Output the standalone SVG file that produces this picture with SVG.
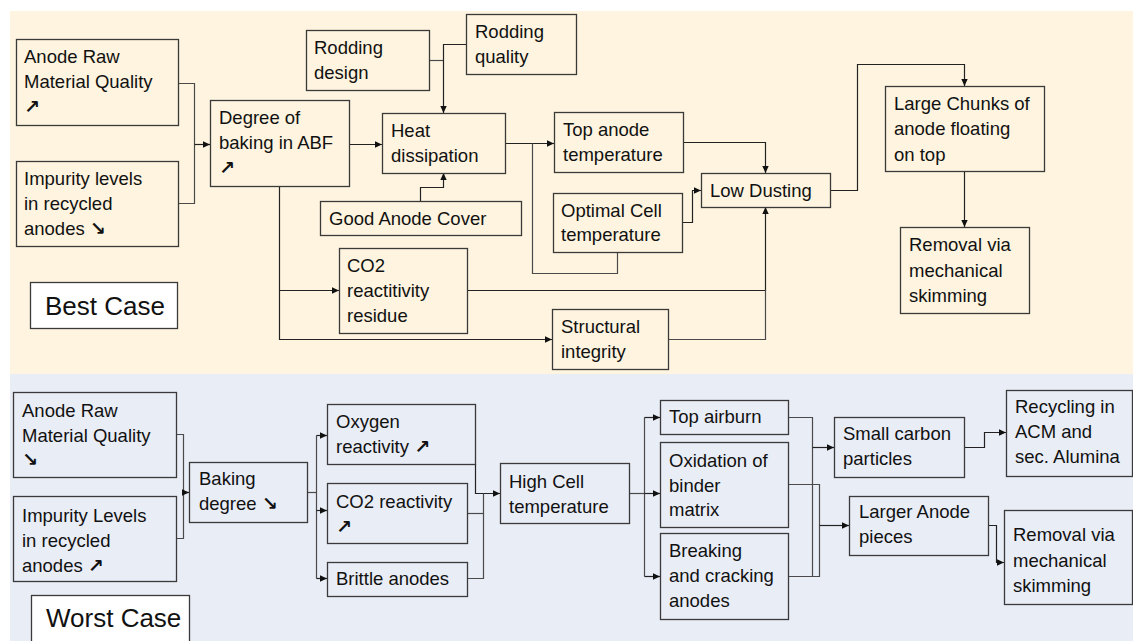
<svg xmlns="http://www.w3.org/2000/svg" width="1133" height="641" viewBox="0 0 1133 641">
<style>
  .box { fill: none; stroke: #3a3a3a; stroke-width: 1.3; }
  .wbox { fill: #ffffff; stroke: #3a3a3a; stroke-width: 1.3; }
  text { font-family: "Liberation Sans", "DejaVu Sans", Arial, sans-serif; font-size: 18.5px; fill: #111111; }
  .big { font-size: 26px; }
  .ar { font-family: "DejaVu Sans", sans-serif; font-weight: bold; font-size: 19px; }
  .c { fill: none; stroke: #4a4a4a; stroke-width: 1.2; }
  .a { fill: none; stroke: #222222; stroke-width: 1.2; marker-end: url(#arr); }
</style>
<defs>
  <marker id="arr" markerUnits="userSpaceOnUse" markerWidth="8" markerHeight="8" refX="7" refY="4" orient="auto">
    <path d="M0,0.8 L7,4 L0,7.2 z" fill="#111111"/>
  </marker>
</defs>

<rect x="10" y="11" width="1123" height="363" fill="#fef4df"/>
<rect x="10" y="374" width="1123" height="267" fill="#e9edf6"/>

<g id="connectors">
  <!-- top -->
  <path class="c" d="M178,83.5 H194.5 V203.5 H178"/>
  <path class="a" d="M194.5,144.5 H210"/>
  <path class="a" d="M349,144.5 H382"/>
  <path class="c" d="M429,60.5 H443.5"/>
  <path class="a" d="M466,44.5 H443.5 V113"/>
  <path class="a" d="M420.5,201 V187.5 H443.5 V173"/>
  <path class="a" d="M505,143.5 H554"/>
  <path class="c" d="M532.5,143.5 V273.5 H617.5 V252"/>
  <path class="a" d="M683,142.5 H765.5 V173"/>
  <path class="a" d="M682,222.5 H692.5 V190.5 H701"/>
  <path class="a" d="M279.5,186 V339.5 H552"/>
  <path class="a" d="M279.5,290.5 H339"/>
  <path class="a" d="M467,290.5 H765.5 V207"/>
  <path class="c" d="M668,339.5 H765.5 V290"/>
  <path class="a" d="M830,190.5 H857.5 V64.5 H964.5 V86"/>
  <path class="a" d="M964.5,171 V227"/>
  <!-- bottom -->
  <path class="c" d="M176,434.5 H183.5 V538.5 H176"/>
  <path class="a" d="M183.5,492.5 H189"/>
  <path class="c" d="M307,492.5 H316.5"/>
  <path class="c" d="M316.5,435.5 V578.5"/>
  <path class="a" d="M316.5,435.5 H327"/>
  <path class="a" d="M316.5,510.5 H327"/>
  <path class="a" d="M316.5,578.5 H327"/>
  <path class="a" d="M475.5,464 V493.5 H500"/>
  <path class="c" d="M467,513.5 H483.5"/>
  <path class="c" d="M467,578.5 H483.5 V493.5"/>
  <path class="c" d="M629,493.5 H644.5"/>
  <path class="c" d="M644.5,417.5 V576.5"/>
  <path class="a" d="M644.5,417.5 H660"/>
  <path class="a" d="M644.5,493.5 H660"/>
  <path class="a" d="M644.5,576.5 H660"/>
  <path class="c" d="M788,417.5 H812.5 V576.5"/>
  <path class="c" d="M788,484.5 H819.5 V576.5 H788"/>
  <path class="a" d="M812.5,447.5 H834"/>
  <path class="a" d="M819.5,525.5 H849"/>
  <path class="a" d="M964,447.5 H984.5 V432.5 H1006"/>
  <path class="a" d="M988,525.5 H996.5 V562.5 H1004"/>
</g>

<!-- top nodes -->
<g id="t-raw">
  <rect class="box" x="16.5" y="39.5" width="162" height="86"/>
  <text><tspan x="24" y="63">Anode Raw</tspan><tspan x="24" y="88">Material Quality</tspan><tspan class="ar" x="24" y="113">↗</tspan></text>
</g>
<g id="t-impurity">
  <rect class="box" x="16.5" y="161.5" width="162" height="85"/>
  <text><tspan x="24" y="185">Impurity levels</tspan><tspan x="24" y="210">in recycled</tspan><tspan x="24" y="235">anodes </tspan><tspan class="ar">↘</tspan></text>
</g>
<g id="t-degree">
  <rect class="box" x="210.5" y="100.5" width="139" height="86"/>
  <text><tspan x="219" y="124">Degree of</tspan><tspan x="219" y="149">baking in ABF</tspan><tspan class="ar" x="219" y="174">↗</tspan></text>
</g>
<g id="t-bestcase">
  <rect class="wbox" x="30.5" y="282.5" width="147" height="46"/>
  <text class="big" x="45" y="315">Best Case</text>
</g>
<g id="t-rodding-design">
  <rect class="box" x="306.5" y="30.5" width="123" height="60"/>
  <text><tspan x="314" y="54">Rodding</tspan><tspan x="314" y="79">design</tspan></text>
</g>
<g id="t-rodding-quality">
  <rect class="box" x="466.5" y="14.5" width="110" height="60"/>
  <text><tspan x="475" y="38">Rodding</tspan><tspan x="475" y="63">quality</tspan></text>
</g>
<g id="t-heat">
  <rect class="box" x="382.5" y="113.5" width="123" height="60"/>
  <text><tspan x="391" y="137">Heat</tspan><tspan x="391" y="162">dissipation</tspan></text>
</g>
<g id="t-cover">
  <rect class="box" x="320.5" y="201.5" width="201" height="34"/>
  <text x="329" y="225">Good Anode Cover</text>
</g>
<g id="t-topanode">
  <rect class="box" x="554.5" y="112.5" width="129" height="60"/>
  <text><tspan x="563" y="136">Top anode</tspan><tspan x="563" y="161">temperature</tspan></text>
</g>
<g id="t-optimal">
  <rect class="box" x="553.5" y="193.5" width="129" height="59"/>
  <text><tspan x="561" y="217">Optimal Cell</tspan><tspan x="561" y="241">temperature</tspan></text>
</g>
<g id="t-lowdusting">
  <rect class="box" x="701.5" y="173.5" width="129" height="34"/>
  <text x="710" y="197">Low Dusting</text>
</g>
<g id="t-co2residue">
  <rect class="box" x="339.5" y="248.5" width="128" height="85"/>
  <text><tspan x="347" y="272">CO2</tspan><tspan x="347" y="297">reactitivity</tspan><tspan x="347" y="322">residue</tspan></text>
</g>
<g id="t-structural">
  <rect class="box" x="552.5" y="309.5" width="116" height="60"/>
  <text><tspan x="561" y="333">Structural</tspan><tspan x="561" y="358">integrity</tspan></text>
</g>
<g id="t-chunks">
  <rect class="box" x="885.5" y="86.5" width="159" height="85"/>
  <text><tspan x="894" y="110">Large Chunks of</tspan><tspan x="894" y="135">anode floating</tspan><tspan x="894" y="161">on top</tspan></text>
</g>
<g id="t-removal">
  <rect class="box" x="900.5" y="227.5" width="129" height="86"/>
  <text><tspan x="909" y="251">Removal via</tspan><tspan x="909" y="277">mechanical</tspan><tspan x="909" y="302">skimming</tspan></text>
</g>

<!-- bottom nodes -->
<g id="b-raw">
  <rect class="box" x="13.5" y="392.5" width="163" height="85"/>
  <text><tspan x="22" y="417">Anode Raw</tspan><tspan x="22" y="442">Material Quality</tspan><tspan class="ar" x="22" y="466">↘</tspan></text>
</g>
<g id="b-impurity">
  <rect class="box" x="13.5" y="496.5" width="163" height="85"/>
  <text><tspan x="22" y="522">Impurity Levels</tspan><tspan x="22" y="547">in recycled</tspan><tspan x="22" y="572">anodes </tspan><tspan class="ar">↗</tspan></text>
</g>
<g id="b-baking">
  <rect class="box" x="189.5" y="462.5" width="118" height="60"/>
  <text><tspan x="199" y="485">Baking</tspan><tspan x="199" y="510">degree </tspan><tspan class="ar">↘</tspan></text>
</g>
<g id="b-worstcase">
  <rect class="wbox" x="31.5" y="595.5" width="158" height="52"/>
  <text class="big" x="46" y="627">Worst Case</text>
</g>
<g id="b-oxygen">
  <rect class="box" x="327.5" y="404.5" width="148" height="60"/>
  <text><tspan x="336" y="428">Oxygen</tspan><tspan x="336" y="453">reactivity </tspan><tspan class="ar">↗</tspan></text>
</g>
<g id="b-co2">
  <rect class="box" x="327.5" y="483.5" width="140" height="60"/>
  <text><tspan x="336" y="508">CO2 reactivity</tspan><tspan class="ar" x="336" y="533">↗</tspan></text>
</g>
<g id="b-brittle">
  <rect class="box" x="327.5" y="562.5" width="140" height="34"/>
  <text x="336" y="585">Brittle anodes</text>
</g>
<g id="b-highcell">
  <rect class="box" x="500.5" y="463.5" width="129" height="60"/>
  <text><tspan x="509" y="488">High Cell</tspan><tspan x="509" y="513">temperature</tspan></text>
</g>
<g id="b-airburn">
  <rect class="box" x="660.5" y="400.5" width="128" height="34"/>
  <text x="669" y="423">Top airburn</text>
</g>
<g id="b-oxidation">
  <rect class="box" x="660.5" y="442.5" width="128" height="85"/>
  <text><tspan x="669" y="467">Oxidation of</tspan><tspan x="669" y="492">binder</tspan><tspan x="669" y="516">matrix</tspan></text>
</g>
<g id="b-breaking">
  <rect class="box" x="660.5" y="533.5" width="128" height="86"/>
  <text><tspan x="669" y="557">Breaking</tspan><tspan x="669" y="582">and cracking</tspan><tspan x="669" y="607">anodes</tspan></text>
</g>
<g id="b-small">
  <rect class="box" x="834.5" y="417.5" width="130" height="60"/>
  <text><tspan x="843" y="440">Small carbon</tspan><tspan x="843" y="465">particles</tspan></text>
</g>
<g id="b-larger">
  <rect class="box" x="849.5" y="496.5" width="139" height="59"/>
  <text><tspan x="859" y="518">Larger Anode</tspan><tspan x="859" y="543">pieces</tspan></text>
</g>
<g id="b-recycling">
  <rect class="box" x="1006.5" y="390.5" width="126" height="86"/>
  <text><tspan x="1015" y="413">Recycling in</tspan><tspan x="1015" y="438">ACM and</tspan><tspan x="1015" y="463">sec. Alumina</tspan></text>
</g>
<g id="b-removal">
  <rect class="box" x="1004.5" y="510.5" width="128" height="94"/>
  <text><tspan x="1013" y="541">Removal via</tspan><tspan x="1013" y="567">mechanical</tspan><tspan x="1013" y="592">skimming</tspan></text>
</g>
</svg>
